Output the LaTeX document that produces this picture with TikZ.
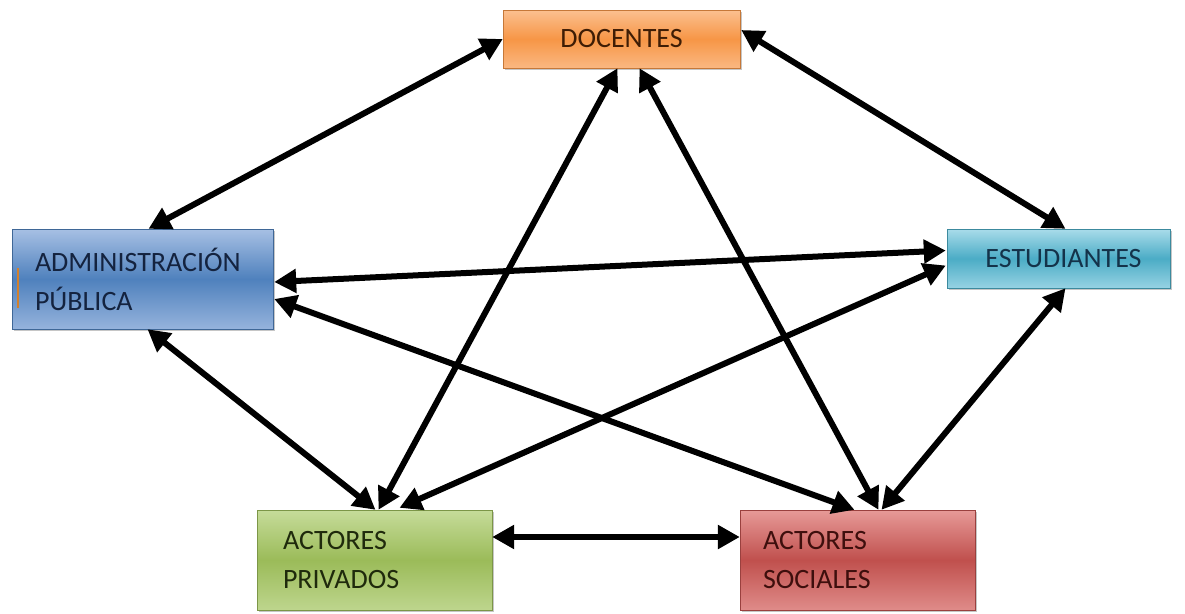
\documentclass[tikz,border=0pt]{standalone}
\usepackage{fontspec}
\setmainfont{Carlito}
\usetikzlibrary{arrows.meta,calc,shadows}
\definecolor{orA}{HTML}{FBC090}\definecolor{orB}{HTML}{F79646}\definecolor{orT}{HTML}{3F1D05}
\definecolor{blA}{HTML}{A7C0E4}\definecolor{blB}{HTML}{4F81BD}\definecolor{blT}{HTML}{14233F}
\definecolor{aqA}{HTML}{A9DCEA}\definecolor{aqB}{HTML}{4BACC6}\definecolor{aqT}{HTML}{14334A}
\definecolor{grA}{HTML}{C6DC9A}\definecolor{grB}{HTML}{9BBB59}\definecolor{grT}{HTML}{1F2A0C}
\definecolor{rdA}{HTML}{E79A98}\definecolor{rdB}{HTML}{C0504D}\definecolor{rdT}{HTML}{3E0F0D}
\tikzset{
  box/.style={rectangle, inner sep=0pt, font=\fontsize{28}{39}\selectfont,
    drop shadow={shadow xshift=2pt, shadow yshift=-2pt, opacity=.45}},
  obox/.style={box, draw=orB!80!black, top color=orA, bottom color=orA!80!orB, middle color=orB, text=orT},
  bbox/.style={box, draw=blB!80!black, top color=blA, bottom color=blA!80!blB, middle color=blB, text=blT},
  abox/.style={box, draw=aqB!80!black, top color=aqA, bottom color=aqA!80!aqB, middle color=aqB, text=aqT},
  gbox/.style={box, draw=grB!80!black, top color=grA, bottom color=grA!80!grB, middle color=grB, text=grT},
  rbox/.style={box, draw=rdB!80!black, top color=rdA, bottom color=rdA!80!rdB, middle color=rdB, text=rdT},
  link/.style={line width=6pt, black, {Triangle[length=22pt,width=23pt]}-{Triangle[length=22pt,width=23pt]}}
}
\begin{document}
\begin{tikzpicture}[x=1pt,y=-1pt]
\useasboundingbox (0,0) rectangle (1185,613);
\node[obox, minimum width=237pt, minimum height=58pt] (doc) at (621.5,39) {DOCENTES};
\node[bbox, minimum width=261pt, minimum height=100pt, text width=215pt, align=left] (adm) at (142.5,279) {ADMINISTRACIÓN\\PÚBLICA};
\node[abox, minimum width=223pt, minimum height=59pt] (est) at (1058.5,258.5) {\hspace*{10pt}ESTUDIANTES};
\node[gbox, minimum width=235pt, minimum height=100pt, text width=183pt, align=left] (pri) at (374.5,560) {ACTORES\\PRIVADOS};
\node[rbox, minimum width=235pt, minimum height=100pt, text width=189pt, align=left] (soc) at (857.5,560) {ACTORES\\SOCIALES};
\coordinate (bar1) at (18,268);
\coordinate (bar2) at (18,308);
\draw[line width=2pt, color=brown!70!orange] (bar1) -- (bar2);
% connectors
\draw[link] ($(doc.west)+(0,0)$) -- ($(adm.north)+(6,0)$);
\draw[link] ($(doc.east)+(1,-9)$) -- ($(est.north)+(7,0)$);
\draw[link] ($(doc.south)+(-4,0)$) -- ($(pri.north)+(4,0)$);
\draw[link] ($(doc.south)+(18,0)$) -- ($(soc.north)+(21,0)$);
\draw[link] ($(adm.east)+(1,3)$) -- ($(est.west)+(-1,-8)$);
\draw[link] ($(adm.east)+(1,20)$) -- ($(soc.north)+(-3,0)$);
\draw[link] ($(adm.south)+(5,0)$) -- ($(pri.north)+(1,0)$);
\draw[link] ($(est.west)+(-1,7)$) -- ($(pri.north)+(25,-2)$);
\draw[link] ($(est.south)+(7,0)$) -- ($(soc.north)+(24,0)$);
\draw[link] ($(pri.east)+(0,-23)$) -- ($(soc.west)+(0,-23)$);
\end{tikzpicture}
\end{document}
